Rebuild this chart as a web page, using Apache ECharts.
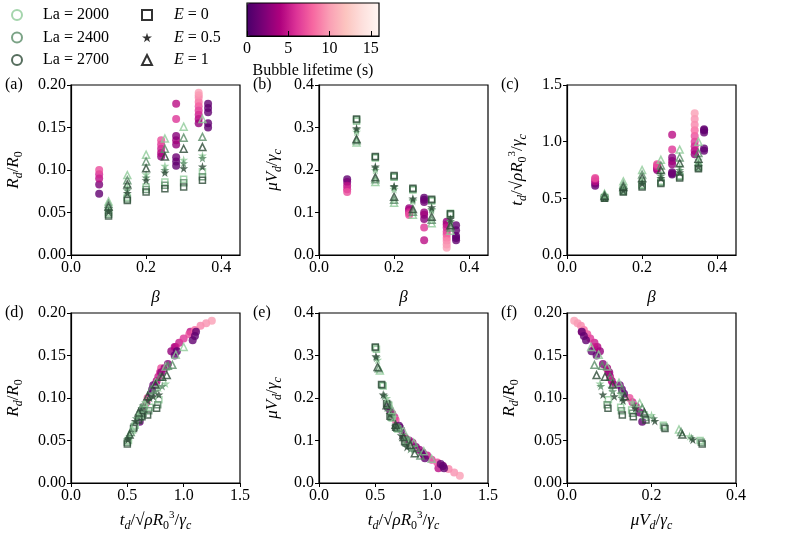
<!DOCTYPE html>
<html>
<head>
<meta charset="utf-8">
<script src="https://cdn.jsdelivr.net/npm/echarts@6/dist/echarts.min.js"></script>
<style>
html,body{margin:0;padding:0;background:#fff;}
#chart{width:793px;height:542px;}
</style>
</head>
<body>
<div id="chart"></div>
<script>
// ---- simulation data : rows are La = 2000 / 2400 / 2700, columns follow betaSim
var betaSim = [0.1, 0.15, 0.2, 0.25, 0.3, 0.35];
var laNames = ['La = 2000', 'La = 2400', 'La = 2700'];
var eNames = ['E = 0', 'E = 0.5', 'E = 1'];

// R_d / R_0
var simRdE0  = [[0.050,0.068,0.080,0.086,0.089,0.098],[0.048,0.066,0.077,0.082,0.085,0.092],[0.046,0.064,0.074,0.078,0.080,0.088]];
var simRdE05 = [[0.055,0.080,0.095,0.105,0.112,0.117],[0.053,0.076,0.091,0.100,0.108,0.114],[0.051,0.073,0.088,0.097,0.102,0.104]];
var simRdE1  = [[0.063,0.094,0.118,0.137,0.151,0.160],[0.060,0.088,0.110,0.125,0.138,0.139],[0.057,0.083,0.102,0.116,0.125,0.127]];
// mu V_d / gamma_c
var simVdE0  = [[0.315,0.228,0.183,0.153,0.127,0.098],[0.318,0.230,0.185,0.155,0.129,0.095],[0.320,0.232,0.187,0.157,0.131,0.097]];
var simVdE05 = [[0.290,0.200,0.155,0.127,0.105,0.078],[0.295,0.205,0.160,0.130,0.108,0.080],[0.298,0.208,0.162,0.133,0.112,0.085]];
var simVdE1  = [[0.265,0.172,0.123,0.095,0.075,0.057],[0.270,0.178,0.130,0.102,0.083,0.065],[0.273,0.183,0.137,0.108,0.090,0.070]];
// t_d / sqrt(rho R0^3 / gamma_c)
var simTdE0  = [[0.51,0.57,0.62,0.65,0.70,0.78],[0.50,0.56,0.61,0.64,0.69,0.77],[0.50,0.555,0.60,0.63,0.68,0.76]];
var simTdE05 = [[0.52,0.60,0.66,0.72,0.78,0.84],[0.51,0.58,0.64,0.70,0.75,0.81],[0.505,0.57,0.63,0.68,0.73,0.78]];
var simTdE1  = [[0.54,0.65,0.75,0.84,0.93,1.00],[0.53,0.62,0.71,0.79,0.86,0.90],[0.52,0.60,0.68,0.75,0.81,0.85]];

// ---- experiments (one value per bubble)
var expBeta = [0.075,0.075,0.075,0.075,0.075, 0.24,0.24,0.24,0.24,0.24,
               0.28,0.28,0.28,0.28,0.28,0.28,0.28,0.28,
               0.34,0.34,0.34,0.34,0.34,0.34,0.34,0.34,0.34, 0.365,0.365,0.365,0.365,0.365];
var expRd = [0.072,0.083,0.090,0.095,0.100, 0.116,0.120,0.125,0.130,0.135,
             0.105,0.110,0.115,0.130,0.135,0.140,0.160,0.178,
             0.155,0.160,0.165,0.170,0.175,0.180,0.185,0.188,0.191, 0.150,0.155,0.168,0.173,0.178];
var expVd = [0.178,0.172,0.163,0.155,0.148, 0.110,0.106,0.102,0.098,0.094,
             0.135,0.130,0.125,0.100,0.095,0.085,0.065,0.035,
             0.078,0.072,0.065,0.055,0.048,0.040,0.033,0.025,0.017, 0.070,0.058,0.045,0.040,0.035];
var expTd = [0.61,0.63,0.65,0.67,0.68, 0.75,0.76,0.775,0.79,0.80,
             0.71,0.72,0.73,0.80,0.83,0.86,0.93,1.06,
             0.89,0.92,0.96,1.00,1.05,1.10,1.15,1.20,1.25, 0.92,0.94,1.08,1.10,1.11];
var expLife = [1,2,4.5,5.5,7, 3,4,5,6,7,
               1,1,1.5,3,3.5,2.5,6,4.5,
               3,4,5,6,7,8,9,9.5,10, 1,1,1,1,1];

// ---- tick labels
var ticksBeta = [0, 0.2, 0.4];
var ticksRd = [0, 0.05, 0.1, 0.15, 0.2];
var ticksVd = [0, 0.1, 0.2, 0.3, 0.4];
var ticksTd = [0, 0.5, 1, 1.5];
var ticksLife = [0, 5, 10, 15];

var laColors = ['#8fcb99', '#5a8c68', '#2c4a36'];
var lifeColors = ['#49006a','#7a0177','#ae017e','#dd3497','#f768a1','#fa9fb5','#fcc5c0','#fde0dd','#fff7f3'];
var serif = 'Liberation Serif';
var starPath = 'path://M50,0 L61,35 L98,35 L68,57 L79,91 L50,70 L21,91 L32,57 L2,35 L39,35 Z';

var simTables = {
    rd: [simRdE0, simRdE05, simRdE1],
    vd: [simVdE0, simVdE05, simVdE1],
    td: [simTdE0, simTdE05, simTdE1]
};
var expTables = { beta: expBeta, rd: expRd, vd: expVd, td: expTd };

var nameRich = {
    i: {fontFamily: serif, fontStyle: 'italic', fontSize: 17, lineHeight: 22, color: '#000'},
    n: {fontFamily: serif, fontSize: 17, lineHeight: 22, color: '#000'},
    s: {fontFamily: serif, fontStyle: 'italic', fontSize: 12, lineHeight: 12, verticalAlign: 'bottom', color: '#000'},
    z: {fontFamily: serif, fontSize: 12, lineHeight: 12, verticalAlign: 'bottom', color: '#000'},
    p: {fontFamily: serif, fontSize: 11, lineHeight: 11, verticalAlign: 'top', color: '#000'}
};
var nameBeta = '{i|β}';
var nameRd = '{i|R}{s|d}{n|/}{i|R}{z|0}';
var nameVd = '{i|μV}{s|d}{n|/}{i|γ}{s|c}';
var nameTd = '{i|t}{s|d}{n|/√}{i|ρR}{z|0}{p|3}{n|/}{i|γ}{s|c}';

// panels: x key, y key, grid position, axis setup
var panels = [
    {x:'beta', y:'rd', left:71,  top:85,  xMax:0.45, xTicks:ticksBeta, xDig:1, yMax:0.2, yTicks:ticksRd, yDig:2, xName:nameBeta, yName:nameRd, xGap:32, yGap:46, tag:'(a)'},
    {x:'beta', y:'vd', left:319, top:85,  xMax:0.45, xTicks:ticksBeta, xDig:1, yMax:0.4, yTicks:ticksVd, yDig:1, xName:nameBeta, yName:nameVd, xGap:32, yGap:35, tag:'(b)'},
    {x:'beta', y:'td', left:567, top:85,  xMax:0.45, xTicks:ticksBeta, xDig:1, yMax:1.5, yTicks:ticksTd, yDig:1, xName:nameBeta, yName:nameTd, xGap:32, yGap:38, tag:'(c)'},
    {x:'td',   y:'rd', left:71,  top:313, xMax:1.5,  xTicks:ticksTd,   xDig:1, yMax:0.2, yTicks:ticksRd, yDig:2, xName:nameTd,   yName:nameRd, xGap:27, yGap:46, tag:'(d)'},
    {x:'td',   y:'vd', left:319, top:313, xMax:1.5,  xTicks:ticksTd,   xDig:1, yMax:0.4, yTicks:ticksVd, yDig:1, xName:nameTd,   yName:nameVd, xGap:27, yGap:35, tag:'(e)'},
    {x:'vd',   y:'rd', left:567, top:313, xMax:0.4,  xTicks:ticksBeta, xDig:1, yMax:0.2, yTicks:ticksRd, yDig:2, xName:nameVd,   yName:nameRd, xGap:27, yGap:46, tag:'(f)'}
];

function simValue(key, e, la, k) {
    if (key == 'beta') return betaSim[k];
    return simTables[key][e][la][k];
}

function makeAxis(idx, max, ticks, dig, name, gap) {
    return {
        type: 'value', gridIndex: idx, min: 0, max: max,
        name: name, nameLocation: 'middle', nameGap: gap,
        nameTextStyle: {rich: nameRich},
        axisLine: {show: true, onZero: false, lineStyle: {color: '#000', width: 1.2}},
        axisTick: {show: true, length: 4, customValues: ticks, lineStyle: {color: '#000', width: 1}},
        axisLabel: {customValues: ticks, color: '#000', fontFamily: serif, fontSize: 16, margin: 5,
            formatter: function (v) { return v.toFixed(dig); }},
        splitLine: {show: false}
    };
}

var grids = [], xAxes = [], yAxes = [], titles = [], expSeries = [], simSeries = [];

for (var p = 0; p < panels.length; p++) {
    var pn = panels[p];
    grids.push({left: pn.left, top: pn.top, width: 169, height: 170, show: true, borderColor: '#000', borderWidth: 1.2});
    xAxes.push(makeAxis(p, pn.xMax, pn.xTicks, pn.xDig, pn.xName, pn.xGap));
    yAxes.push(makeAxis(p, pn.yMax, pn.yTicks, pn.yDig, pn.yName, pn.yGap));
    titles.push({text: pn.tag, left: pn.left - 66, top: pn.top - 8, padding: 0,
        textStyle: {fontFamily: serif, fontSize: 16, fontWeight: 'normal', color: '#000'}});

    var ed = [];
    for (var j = 0; j < expBeta.length; j++) {
        ed.push([expTables[pn.x][j], expTables[pn.y][j], expLife[j]]);
    }
    expSeries.push({type: 'scatter', xAxisIndex: p, yAxisIndex: p, symbol: 'circle', symbolSize: 8,
        data: ed, silent: true, z: 2});

    for (var e = 0; e < 3; e++) {
        for (var la = 0; la < 3; la++) {
            var sd = [];
            for (var k = 0; k < betaSim.length; k++) {
                sd.push([simValue(pn.x, e, la, k), simValue(pn.y, e, la, k)]);
            }
            var s = {type: 'scatter', xAxisIndex: p, yAxisIndex: p, data: sd, silent: true, z: 3};
            if (e == 0) {
                s.symbol = 'rect'; s.symbolSize = 6;
                s.itemStyle = {color: 'rgba(0,0,0,0)', borderColor: laColors[la], borderWidth: 1.5};
            } else if (e == 1) {
                s.symbol = starPath; s.symbolSize = 9;
                s.itemStyle = {color: laColors[la]};
            } else {
                s.symbol = 'triangle'; s.symbolSize = 7;
                s.itemStyle = {color: 'rgba(0,0,0,0)', borderColor: laColors[la], borderWidth: 1.5};
            }
            simSeries.push(s);
        }
    }
}

// colour bar frame + axis
grids.push({left: 247, top: 3, width: 132, height: 33, show: true, borderColor: '#000', borderWidth: 1.2, z: 10});
xAxes.push({type: 'value', gridIndex: 6, min: 0, max: 16, z: 10,
    name: 'Bubble lifetime (s)', nameLocation: 'middle', nameGap: 27,
    nameTextStyle: {fontFamily: serif, fontSize: 16, color: '#000'},
    axisLine: {show: true, lineStyle: {color: '#000', width: 1.2}},
    axisTick: {show: true, inside: true, length: 5, customValues: ticksLife, lineStyle: {color: '#000', width: 1}},
    axisLabel: {customValues: ticksLife, color: '#000', fontFamily: serif, fontSize: 16, margin: 5},
    splitLine: {show: false}});
yAxes.push({type: 'value', gridIndex: 6, min: 0, max: 1, show: false});

// empty series so the legends have names to show
var legendSeries = [];
var allLegendNames = laNames.concat(eNames);
for (var q = 0; q < allLegendNames.length; q++) {
    legendSeries.push({type: 'scatter', name: allLegendNames[q], xAxisIndex: 0, yAxisIndex: 0, data: []});
}

var laLegendData = [], eLegendData = [];
for (var a = 0; a < 3; a++) {
    laLegendData.push({name: laNames[a], icon: 'circle',
        itemStyle: {color: 'rgba(0,0,0,0)', borderColor: laColors[a], borderWidth: 2}});
}
eLegendData.push({name: eNames[0], icon: 'rect', itemStyle: {color: 'rgba(0,0,0,0)', borderColor: '#000', borderWidth: 2}});
eLegendData.push({name: eNames[1], icon: starPath, itemStyle: {color: '#000', borderWidth: 0}});
eLegendData.push({name: eNames[2], icon: 'triangle', itemStyle: {color: 'rgba(0,0,0,0)', borderColor: '#000', borderWidth: 2}});

var expIndex = [];
for (var t = 0; t < expSeries.length; t++) expIndex.push(t);

var myChart = echarts.init(document.getElementById('chart'), null, {renderer: 'canvas'});
var option = {
    animation: false,
    backgroundColor: '#fff',
    title: titles,
    grid: grids,
    xAxis: xAxes,
    yAxis: yAxes,
    legend: [
        {orient: 'vertical', left: 11, top: 7, padding: 0, itemWidth: 10, itemHeight: 10, itemGap: 6.5, selectedMode: false,
            textStyle: {fontFamily: serif, fontSize: 16, lineHeight: 15, color: '#000', padding: [0, 0, 0, 16]},
            data: laLegendData},
        {orient: 'vertical', left: 141, top: 7, padding: 0, itemWidth: 10, itemHeight: 10, itemGap: 6.5, selectedMode: false,
            formatter: function (name) { return '{i|E}' + name.substring(1); },
            textStyle: {fontFamily: serif, fontSize: 16, lineHeight: 15, color: '#000', padding: [0, 0, 0, 17],
                rich: {i: {fontFamily: serif, fontStyle: 'italic', fontSize: 16, color: '#000'}}},
            data: eLegendData}
    ],
    visualMap: {
        type: 'continuous', min: 0, max: 16, dimension: 2, seriesIndex: expIndex,
        orient: 'horizontal', left: 247, top: 3, itemWidth: 33, itemHeight: 132,
        calculable: false, hoverLink: false, text: null, showLabel: false, padding: 0, z: 4,
        inRange: {color: lifeColors}
    },
    series: expSeries.concat(simSeries).concat(legendSeries)
};
myChart.setOption(option);
</script>
</body>
</html>
